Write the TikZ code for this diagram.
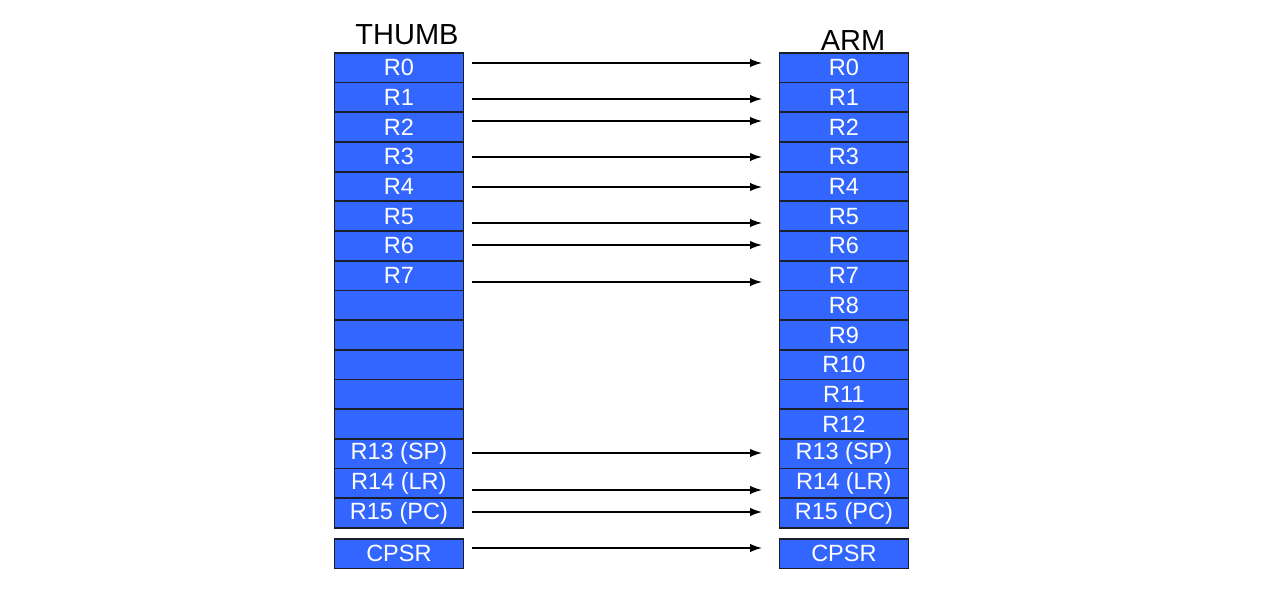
\documentclass[tikz,border=0pt]{standalone}
\usepackage{fontspec}
\setmainfont{Liberation Sans}
\usetikzlibrary{arrows.meta}
\definecolor{regblue}{HTML}{3366FF}
\definecolor{regline}{HTML}{1A1D2A}
\begin{document}
\begin{tikzpicture}[x=1pt,y=-1pt,
  reg/.style={draw=regline, line width=1.8pt, fill=regblue, text=white,
    minimum width=129pt, minimum height=29.69pt, inner sep=0pt, anchor=north west,
    font=\fontsize{23.5}{24}\selectfont},
  title/.style={font=\fontsize{29}{30}\selectfont, text=black, inner sep=0pt},
  map/.style={line width=1.4pt, -{Latex[length=12pt,width=8.5pt]}}]
\useasboundingbox (0,0) rectangle (1270,600);
\fill[white] (0,0) rectangle (1270,600);

% column headings
\node[title] (thumb) at (407,35) {THUMB};
\node[title] (arm) at (853,41) {ARM};

% THUMB register bank: R0-R7, five unused slots, R13-R15
\foreach \i/\t in {0/R0,1/R1,2/R2,3/R3,4/R4,5/R5,6/R6,7/R7,8/{},9/{},10/{},11/{},12/{},13/R13 (SP),14/R14 (LR),15/R15 (PC)}
  \node[reg] (t\i) at (333.5,52+29.69*\i) {\t};
% ARM register bank: R0-R15
\foreach \i/\t in {0/R0,1/R1,2/R2,3/R3,4/R4,5/R5,6/R6,7/R7,8/R8,9/R9,10/R10,11/R11,12/R12,13/R13 (SP),14/R14 (LR),15/R15 (PC)}
  \node[reg] (a\i) at (778.5,52+29.69*\i) {\t};
% status registers
\node[reg] (tcpsr) at (333.5,538) {CPSR};
\node[reg] (acpsr) at (778.5,538) {CPSR};

% mapping arrows between the banks
\foreach \n/\y in {0/63,1/99,2/121,3/157,4/187,5/223,6/245,7/282,13/453,14/490,15/512,c/548}{
  \coordinate (s\n) at (472,\y);
  \coordinate (e\n) at (762,\y);
  \draw[map] (s\n) -- (e\n);
}
\end{tikzpicture}
\end{document}
